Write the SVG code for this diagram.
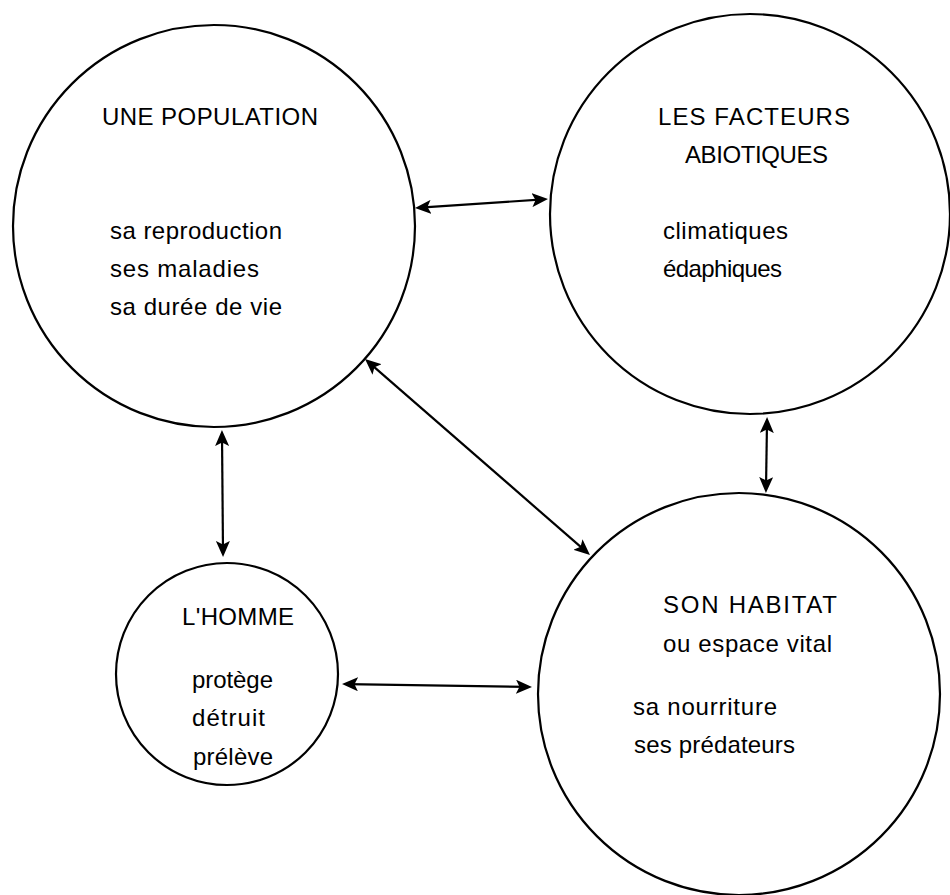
<svg xmlns="http://www.w3.org/2000/svg" width="950" height="895" viewBox="0 0 950 895">
  <style>
    .node { fill: none; stroke: #000; stroke-width: 2.2; }
    .lbl { font-family: "Liberation Sans", Arial, sans-serif; font-size: 24px; fill: #000; }
    .conn line { stroke: #000; stroke-width: 2.2; fill: none; }
  </style>
  <defs>
    <marker id="ah" viewBox="0 0 16 14" markerWidth="16" markerHeight="14" refX="11" refY="7" orient="auto-start-reverse" markerUnits="userSpaceOnUse">
      <path d="M0,0 L16,7 L0,14 L3.5,7 z" fill="#000"/>
    </marker>
  </defs>
  <rect width="950" height="895" fill="#fff"/>

  <g id="population">
    <circle class="node" cx="214" cy="226" r="201"/>
    <text class="lbl" x="102" y="125" textLength="216" lengthAdjust="spacing">UNE POPULATION</text>
    <text class="lbl" x="110" y="239" textLength="172" lengthAdjust="spacing">sa reproduction</text>
    <text class="lbl" x="110" y="277" textLength="149" lengthAdjust="spacing">ses maladies</text>
    <text class="lbl" x="110" y="315" textLength="172" lengthAdjust="spacing">sa durée de vie</text>
  </g>

  <g id="facteurs">
    <circle class="node" cx="750" cy="214" r="200"/>
    <text class="lbl" x="658" y="125" textLength="192" lengthAdjust="spacing">LES FACTEURS</text>
    <text class="lbl" x="685" y="163" textLength="143" lengthAdjust="spacing">ABIOTIQUES</text>
    <text class="lbl" x="663" y="239" textLength="125" lengthAdjust="spacing">climatiques</text>
    <text class="lbl" x="663" y="277" textLength="119" lengthAdjust="spacing">édaphiques</text>
  </g>

  <g id="homme">
    <circle class="node" cx="227" cy="674" r="111"/>
    <text class="lbl" x="182" y="625" textLength="112" lengthAdjust="spacing">L'HOMME</text>
    <text class="lbl" x="192" y="688" textLength="81" lengthAdjust="spacing">protège</text>
    <text class="lbl" x="192" y="726" textLength="73" lengthAdjust="spacing">détruit</text>
    <text class="lbl" x="193" y="765" textLength="80" lengthAdjust="spacing">prélève</text>
  </g>

  <g id="habitat">
    <circle class="node" cx="739" cy="694" r="201"/>
    <text class="lbl" x="663" y="613" textLength="174" lengthAdjust="spacing">SON HABITAT</text>
    <text class="lbl" x="663" y="652" textLength="169" lengthAdjust="spacing">ou espace vital</text>
    <text class="lbl" x="633" y="715" textLength="144" lengthAdjust="spacing">sa nourriture</text>
    <text class="lbl" x="634" y="753" textLength="161" lengthAdjust="spacing">ses prédateurs</text>
  </g>

  <g id="connectors" class="conn">
    <line x1="420" y1="207.6" x2="543" y2="199.4" marker-start="url(#ah)" marker-end="url(#ah)"/>
    <line x1="368.8" y1="362.3" x2="586.2" y2="551.7" marker-start="url(#ah)" marker-end="url(#ah)"/>
    <line x1="222" y1="435" x2="223" y2="552" marker-start="url(#ah)" marker-end="url(#ah)"/>
    <line x1="767" y1="422" x2="766" y2="488" marker-start="url(#ah)" marker-end="url(#ah)"/>
    <line x1="347" y1="684.1" x2="527" y2="686.9" marker-start="url(#ah)" marker-end="url(#ah)"/>
  </g>
</svg>
